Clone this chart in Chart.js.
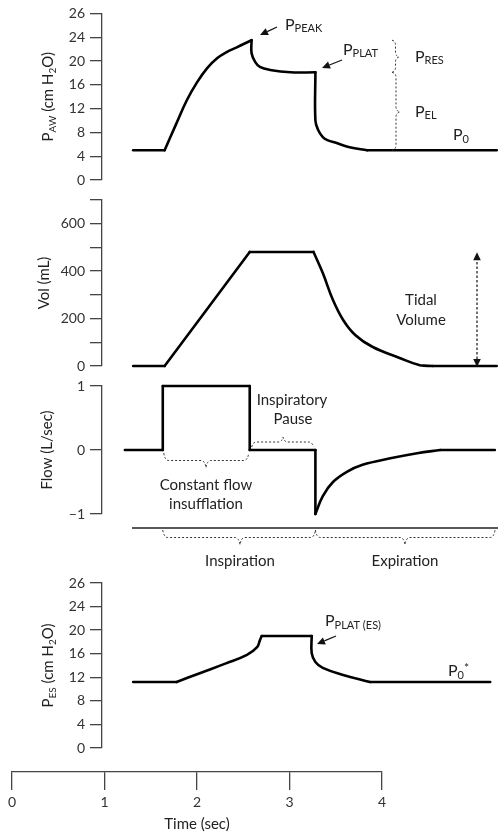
<!DOCTYPE html>
<html>
<head>
<meta charset="utf-8">
<script src="https://cdn.jsdelivr.net/npm/chart.js@4.4.1/dist/chart.umd.min.js"></script>
<style>
  html, body { margin: 0; padding: 0; background: #fff; }
  #wrap { position: relative; width: 498px; height: 834px; }
  #wrap canvas { position: absolute; left: 0; top: 0; }
</style>
</head>
<body>
<div id="wrap">
  <canvas id="paw" width="498" height="834"></canvas>
  <canvas id="vol" width="498" height="834"></canvas>
  <canvas id="flow" width="498" height="834"></canvas>
  <canvas id="pes" width="498" height="834"></canvas>
  <canvas id="time" width="498" height="834"></canvas>
</div>
<script>
// --- values (time in sec) ---
const pawTime   = [1.31, 1.65, 1.78, 1.89, 2.00, 2.11, 2.22, 2.32, 2.43, 2.51, 2.59, 2.59, 2.63, 2.68, 2.79, 3.01, 3.28, 3.28, 3.31, 3.36, 3.41, 3.51, 3.65, 3.84, 5.24];
const pawValues = [5, 5, 9.6, 13.4, 16.4, 18.8, 20.5, 21.5, 22.3, 22.9, 23.5, 21.3, 19.8, 19.0, 18.5, 18.1, 18.1, 10, 8.4, 7.2, 6.7, 6.2, 5.5, 5, 5];
const pawCorners = [1, 10, 16, 23];

const volTime   = [1.31, 1.65, 2.57, 3.26, 3.36, 3.47, 3.58, 3.71, 3.90, 4.19, 4.41, 4.55, 5.24];
const volValues = [0, 0, 481, 481, 392, 278, 194, 131, 80, 34, 3, 0, 0];
const volCorners = [1, 2, 3, 11];

const flowTime   = [1.22, 1.63, 1.63, 2.57, 2.57, 3.28, 3.28, 3.36, 3.47, 3.62, 3.79, 4.09, 4.38, 4.63, 5.22];
const flowValues = [0, 0, 1, 1, 0, 0, -1, -0.72, -0.5, -0.34, -0.23, -0.13, -0.05, 0, 0];
const flowCorners = [1, 2, 3, 4, 5, 6, 13];

const esTime   = [1.31, 1.78, 2.03, 2.32, 2.54, 2.65, 2.68, 2.70, 3.24, 3.24, 3.28, 3.36, 3.58, 3.87, 5.17];
const esValues = [11.2, 11.2, 12.7, 14.4, 15.8, 17.1, 18.3, 19.0, 19.0, 16.1, 14.6, 13.6, 12.4, 11.2, 11.2];
const esCorners = [1, 7, 8, 13];

// tick values and the labels printed next to them
const pressureTicks = [0, 4, 8, 12, 16, 20, 24, 28];
const pressureTickLabels = ['0', '4', '8', '12', '16', '20', '24', '26'];
const volTicks = [0, 100, 200, 300, 400, 500, 600, 700];
const volTickLabels = ['0', '', '200', '', '400', '', '600', ''];
const flowTicks = [-1, 0, 1];
const flowTickLabels = ['\u22121', '0', '1'];
const timeTicks = [0, 1, 2, 3, 4];

// layout
const FONT = 'Lato, "Open Sans", sans-serif';
const AXIS = '#444';
const TEXT = '#222';
const H = 834;
const AXIS_X0 = 12, PX_PER_SEC = 92.5;
const X_MIN = (102 - AXIS_X0) / PX_PER_SEC;
const X_MAX = (497 - AXIS_X0) / PX_PER_SEC;

function points(xs, ys) {
    return xs.map((x, i) => ({ x: x, y: ys[i] }));
}

// split a trace at its sharp corners so each piece can be smoothed on its own
function pieces(xs, ys, corners) {
    const cuts = [0].concat(corners, [xs.length - 1]);
    const out = [];
    for (let k = 0; k < cuts.length - 1; k++) {
        const a = cuts[k], b = cuts[k + 1];
        if (b > a) out.push(points(xs.slice(a, b + 1), ys.slice(a, b + 1)));
    }
    return out;
}

function rich(ctx, x, y, runs, align) {
    let w = 0;
    runs.forEach(r => { ctx.font = r[1] + 'px ' + FONT; w += ctx.measureText(r[0]).width; });
    let cx = align === 'center' ? x - w / 2 : x;
    ctx.textAlign = 'left';
    ctx.textBaseline = 'alphabetic';
    runs.forEach(r => {
        ctx.font = r[1] + 'px ' + FONT;
        ctx.fillText(r[0], cx, y + (r[2] || 0));
        cx += ctx.measureText(r[0]).width;
    });
}

function yTitle(ctx, x, y, runs) {
    ctx.save();
    ctx.translate(x, y);
    ctx.rotate(-Math.PI / 2);
    ctx.fillStyle = TEXT;
    rich(ctx, 0, 0, runs, 'center');
    ctx.restore();
}

function arrow(ctx, x1, y1, x2, y2, dashed, both) {
    const a = Math.atan2(y2 - y1, x2 - x1), hl = 8, hw = 3.8;
    const ux = Math.cos(a), uy = Math.sin(a);
    ctx.save();
    ctx.strokeStyle = '#111'; ctx.fillStyle = '#111'; ctx.lineWidth = 1.2;
    if (dashed) ctx.setLineDash([2.5, 2]);
    ctx.beginPath();
    ctx.moveTo(both ? x1 + ux * hl : x1, both ? y1 + uy * hl : y1);
    ctx.lineTo(x2 - ux * hl, y2 - uy * hl);
    ctx.stroke();
    ctx.setLineDash([]);
    const head = (tx, ty, dx, dy) => {
        ctx.beginPath();
        ctx.moveTo(tx, ty);
        ctx.lineTo(tx - dx * hl - dy * hw, ty - dy * hl + dx * hw);
        ctx.lineTo(tx - dx * hl + dy * hw, ty - dy * hl - dx * hw);
        ctx.closePath();
        ctx.fill();
    };
    head(x2, y2, ux, uy);
    if (both) head(x1, y1, -ux, -uy);
    ctx.restore();
}

// horizontal curly brace, d > 0 points down
function hBrace(ctx, x1, x2, y, xm, d) {
    const r = 5, m = y + d / 2;
    ctx.save();
    ctx.strokeStyle = '#333'; ctx.lineWidth = 1; ctx.setLineDash([2, 2]);
    ctx.beginPath();
    ctx.moveTo(x1, y);
    ctx.quadraticCurveTo(x1 + 1, m, x1 + r, m);
    ctx.lineTo(xm - r, m);
    ctx.quadraticCurveTo(xm - 1, m, xm, y + d);
    ctx.quadraticCurveTo(xm + 1, m, xm + r, m);
    ctx.lineTo(x2 - r, m);
    ctx.quadraticCurveTo(x2 - 1, m, x2, y);
    ctx.stroke();
    ctx.restore();
}

// vertical curly brace, d > 0 points right
function vBrace(ctx, x, y1, y2, ym, d) {
    const r = 5, m = x + d / 2;
    ctx.save();
    ctx.strokeStyle = '#333'; ctx.lineWidth = 1; ctx.setLineDash([2, 2]);
    ctx.beginPath();
    ctx.moveTo(x, y1);
    ctx.quadraticCurveTo(m, y1 + 1, m, y1 + r);
    ctx.lineTo(m, ym - r);
    ctx.quadraticCurveTo(m, ym - 1, x + d, ym);
    ctx.quadraticCurveTo(m, ym + 1, m, ym + r);
    ctx.lineTo(m, y2 - r);
    ctx.quadraticCurveTo(m, y2 - 1, x, y2);
    ctx.stroke();
    ctx.restore();
}

function yAxis(min, max, ticks, labels) {
    return {
        min: min, max: max, position: 'left',
        afterFit: s => { s.width = 102; },
        afterBuildTicks: s => { s.ticks = ticks.map(v => ({ value: v })); },
        grid: { drawOnChartArea: false, drawTicks: true, tickLength: 12, color: AXIS, lineWidth: 1.3 },
        border: { color: AXIS, width: 1.3 },
        ticks: {
            autoSkip: false, padding: 5, color: '#333',
            font: { family: FONT, size: 14 },
            callback: (v, i) => labels[i]
        }
    };
}

function panel(id, top, bottom, yScale, xs, ys, corners, decor) {
    return new Chart(document.getElementById(id), {
        type: 'line',
        data: {
            datasets: pieces(xs, ys, corners).map(p => ({
                data: p,
                borderColor: '#000', borderWidth: 2.6, borderCapStyle: 'round',
                pointRadius: 0, tension: 0.4, fill: false, clip: false
            }))
        },
        options: {
            responsive: false, animation: false, events: [],
            layout: { padding: { left: 0, right: 1, top: top, bottom: H - bottom } },
            plugins: { legend: { display: false }, tooltip: { enabled: false } },
            scales: {
                x: { type: 'linear', display: false, min: X_MIN, max: X_MAX },
                y: yScale
            }
        },
        plugins: [{
            id: 'decor_' + id,
            afterDraw: c => {
                const ctx = c.ctx;
                ctx.save();
                ctx.fillStyle = TEXT;
                decor(ctx, c.scales.x, c.scales.y, c.chartArea);
                ctx.restore();
            }
        }]
    });
}

// airway pressure
panel('paw', 13, 180, yAxis(0, 28, pressureTicks, pressureTickLabels), pawTime, pawValues, pawCorners, (ctx, x, y, area) => {
    yTitle(ctx, 53, (area.top + area.bottom) / 2, [['P', 15], ['AW', 10, 3], [' (cm H', 15], ['2', 10, 3], ['O)', 15]]);
    rich(ctx, 285, 30, [['P', 16], ['PEAK', 11, 2]]);
    arrow(ctx, 277, 27, 260, 35);
    rich(ctx, 343, 55, [['P', 16], ['PLAT', 11, 2]]);
    arrow(ctx, 342, 60, 322, 68);
    vBrace(ctx, 392, y.getPixelForValue(23.5), y.getPixelForValue(18.1), 57, 7);
    vBrace(ctx, 392, y.getPixelForValue(18.1), y.getPixelForValue(5), 112, 8);
    rich(ctx, 415, 62, [['P', 16], ['RES', 11, 2]]);
    rich(ctx, 415, 117, [['P', 16], ['EL', 11, 2]]);
    rich(ctx, 453, 140, [['P', 16], ['0', 11, 3]]);
});

// volume
panel('vol', 200, 366, yAxis(0, 700, volTicks, volTickLabels), volTime, volValues, volCorners, (ctx, x, y, area) => {
    yTitle(ctx, 49, (area.top + area.bottom) / 2, [['Vol (mL)', 15]]);
    rich(ctx, 421, 305, [['Tidal', 15]], 'center');
    rich(ctx, 421, 325, [['Volume', 15]], 'center');
    arrow(ctx, 477, y.getPixelForValue(0) + 1, 477, y.getPixelForValue(480), true, true);
});

// flow
panel('flow', 386, 514, yAxis(-1, 1, flowTicks, flowTickLabels), flowTime, flowValues, flowCorners, (ctx, x, y, area) => {
    yTitle(ctx, 52, (area.top + area.bottom) / 2, [['Flow (L/sec)', 15]]);
    const z = y.getPixelForValue(0);
    rich(ctx, 292, 405, [['Inspiratory', 15]], 'center');
    rich(ctx, 293, 424, [['Pause', 15]], 'center');
    hBrace(ctx, x.getPixelForValue(2.57) + 2, x.getPixelForValue(3.28) - 2, z - 3, 283, -10);
    hBrace(ctx, x.getPixelForValue(1.63) + 1, x.getPixelForValue(2.57) - 1, z + 3, 206, 15);
    rich(ctx, 206, 490, [['Constant flow', 15]], 'center');
    rich(ctx, 206, 509, [['insufflation', 15]], 'center');
    ctx.strokeStyle = '#222'; ctx.lineWidth = 1.5;
    ctx.beginPath(); ctx.moveTo(132, 528); ctx.lineTo(498, 528); ctx.stroke();
    hBrace(ctx, x.getPixelForValue(1.63), x.getPixelForValue(3.28), 530, 240, 15);
    hBrace(ctx, x.getPixelForValue(3.28), 495, 530, 405, 15);
    rich(ctx, 240, 566, [['Inspiration', 15]], 'center');
    rich(ctx, 405, 566, [['Expiration', 15]], 'center');
});

// esophageal pressure
panel('pes', 583, 748, yAxis(0, 28, pressureTicks, pressureTickLabels), esTime, esValues, esCorners, (ctx, x, y, area) => {
    yTitle(ctx, 53, (area.top + area.bottom) / 2, [['P', 15], ['ES', 10, 3], [' (cm H', 15], ['2', 10, 3], ['O)', 15]]);
    rich(ctx, 325, 626, [['P', 16], ['PLAT (ES)', 11, 3]]);
    arrow(ctx, 336, 636, 317, 644);
    rich(ctx, 448, 676, [['P', 16], ['0', 11, 3], ['*', 12, -4]]);
});

// shared time axis
new Chart(document.getElementById('time'), {
    type: 'line',
    data: { datasets: [{ data: [] }] },
    options: {
        responsive: false, animation: false, events: [],
        layout: { padding: { left: AXIS_X0, right: 498 - (AXIS_X0 + 4 * PX_PER_SEC), top: 700, bottom: 0 } },
        plugins: { legend: { display: false }, tooltip: { enabled: false } },
        scales: {
            x: {
                type: 'linear', position: 'bottom', min: 0, max: 4,
                afterFit: s => { s.height = 62; },
                afterBuildTicks: s => { s.ticks = timeTicks.map(v => ({ value: v })); },
                grid: { drawOnChartArea: false, drawTicks: true, tickLength: 18, color: AXIS, lineWidth: 1.3 },
                border: { color: AXIS, width: 1.3 },
                ticks: { padding: 4, color: '#333', font: { family: FONT, size: 14 } },
                title: { display: true, text: 'Time (sec)', color: TEXT, font: { family: FONT, size: 15 }, padding: { top: 0, bottom: 1 } }
            },
            y: { display: false }
        }
    }
});
</script>
</body>
</html>
